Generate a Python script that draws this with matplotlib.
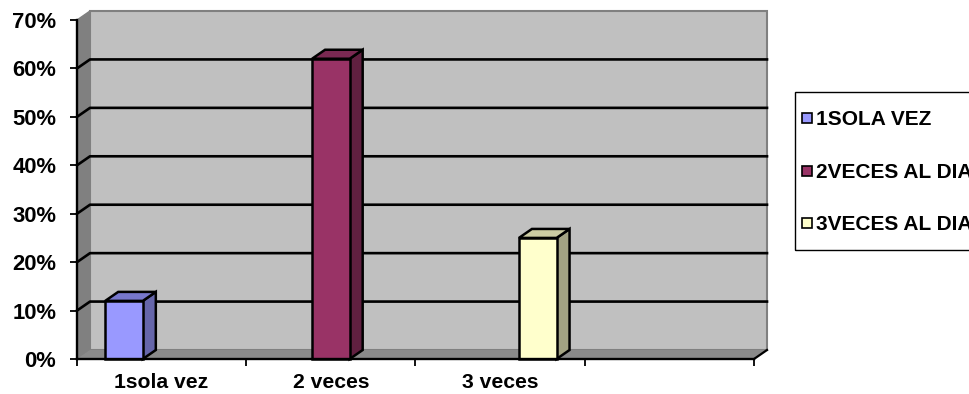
import matplotlib.pyplot as plt
from matplotlib.patches import Polygon, Rectangle
from matplotlib.ticker import FuncFormatter, FixedLocator

plt.rcParams['font.family'] = ['Liberation Sans', 'DejaVu Sans']
plt.rcParams['font.weight'] = 'bold'

# data
categories = ['1sola vez', '2 veces', '3 veces', '']
series_names = ['1SOLA VEZ', '2VECES AL DIA', '3VECES AL DIA']
series_values = [
    [12, None, None, None],
    [None, 62, None, None],
    [None, None, 25, None],
]
y_ticks = [0, 10, 20, 30, 40, 50, 60, 70]

# colours: front, top, side
front_colors = ['#9999FF', '#993366', '#FFFFCC']
top_colors = ['#7777CC', '#7A2952', '#CCCCA3']
side_colors = ['#6666AA', '#602040', '#A3A383']

W, H = 970, 394
fig = plt.figure(figsize=(W / 100, H / 100), dpi=100)
ax = fig.add_axes([77 / W, 35 / H, 677 / W, 339 / H])
ax.set_xlim(0, len(categories))
ax.set_ylim(0, 70)
ax.patch.set_visible(False)

# depth of the 3d effect, in data units (about 13px right, 9px up)
dx = 13 / 169.25
dy = 9 / 48.45 * 10
ncat = len(categories)
top = y_ticks[-1]

# back wall, side wall, floor
ax.add_patch(Polygon([(dx, dy), (ncat + dx, dy), (ncat + dx, top + dy), (dx, top + dy)],
                     closed=True, facecolor='#C0C0C0', edgecolor='#808080', lw=1.5,
                     clip_on=False, zorder=0))
ax.add_patch(Polygon([(0, 0), (dx, dy), (dx, top + dy), (0, top)],
                     closed=True, facecolor='#808080', edgecolor='#808080', lw=1,
                     clip_on=False, zorder=0.5))
ax.add_patch(Polygon([(0, 0), (ncat, 0), (ncat + dx, dy), (dx, dy)],
                     closed=True, facecolor='#8A8A8A', edgecolor='none',
                     clip_on=False, zorder=0.5))
ax.plot([ncat, ncat + dx], [0, dy], color='black', lw=1.6, clip_on=False, zorder=3)

# gridlines on side and back walls
for g in y_ticks[1:-1]:
    ax.plot([0, dx, ncat + dx], [g, g + dy, g + dy], color='black', lw=1.9,
            clip_on=False, zorder=1)

# clustered columns, gap width 150%
bw = 1 / 4.5
for s, vals in enumerate(series_values):
    for c, v in enumerate(vals):
        if v is None:
            continue
        x0 = c + 0.75 * bw + s * bw
        x1 = x0 + bw
        ax.add_patch(Polygon([(x1, 0), (x1 + dx, dy), (x1 + dx, v + dy), (x1, v)],
                             closed=True, facecolor=side_colors[s], edgecolor='black',
                             lw=1.8, clip_on=False, zorder=2))
        ax.add_patch(Polygon([(x0, v), (x1, v), (x1 + dx, v + dy), (x0 + dx, v + dy)],
                             closed=True, facecolor=top_colors[s], edgecolor='black',
                             lw=1.8, clip_on=False, zorder=2))
        ax.add_patch(Rectangle((x0, 0), bw, v, facecolor=front_colors[s],
                               edgecolor='black', lw=1.8, clip_on=False, zorder=2.5))

# axes
for side in ['top', 'right']:
    ax.spines[side].set_visible(False)
for side in ['left', 'bottom']:
    ax.spines[side].set_linewidth(1.7)
    ax.spines[side].set_zorder(3)

ax.set_yticks(y_ticks)
ax.yaxis.set_major_formatter(FuncFormatter(lambda v, p: f'{v:.0f}%'))
ax.tick_params(axis='y', length=5, width=1.3, pad=10, labelsize=15.8)

ax.xaxis.set_major_locator(FixedLocator(range(ncat + 1)))
ax.xaxis.set_minor_locator(FixedLocator([c + 0.5 for c in range(ncat)]))
ax.xaxis.set_major_formatter(FuncFormatter(lambda v, p: ''))
ax.set_xticklabels(categories, minor=True)
ax.tick_params(axis='x', which='major', length=5, width=1.3)
ax.tick_params(axis='x', which='minor', length=0, pad=10, labelsize=15.2)

# legend box, partly cut by the right edge like the original
fig.patches.append(Rectangle((795 / W, 1 - 250 / H), 220 / W, 158 / H,
                             transform=fig.transFigure, fill=False,
                             edgecolor='black', lw=1))
legend_y = [118, 171, 223]
for s, name in enumerate(series_names):
    yc = legend_y[s]
    fig.patches.append(Rectangle((802 / W, 1 - (yc + 5) / H), 10 / W, 10 / H,
                                 transform=fig.transFigure, facecolor=front_colors[s],
                                 edgecolor='black', lw=1.2))
    fig.text(816 / W, 1 - (yc + 7) / H, name, fontsize=15, fontweight='bold',
             va='baseline', ha='left')

fig.savefig('out.png', dpi=100)
